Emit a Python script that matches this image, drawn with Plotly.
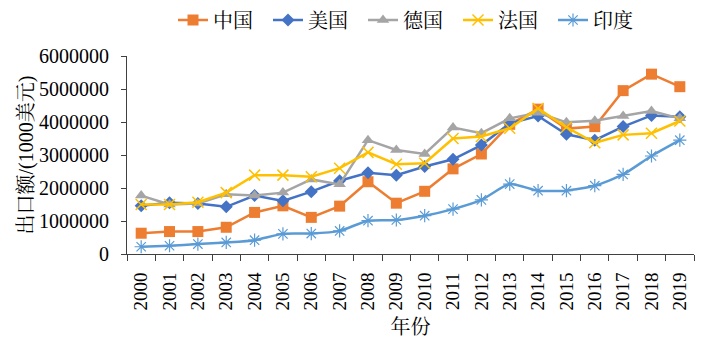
import plotly.graph_objects as go

years = [str(y) for y in range(2000, 2020)]
china = [630000, 680000, 680000, 810000, 1260000, 1460000, 1110000, 1450000, 2190000, 1540000,
         1900000, 2580000, 3030000, 3930000, 4390000, 3800000, 3860000, 4950000, 5450000, 5070000]
usa = [1460000, 1550000, 1530000, 1430000, 1770000, 1610000, 1890000, 2220000, 2460000, 2390000,
       2650000, 2870000, 3300000, 3960000, 4180000, 3630000, 3450000, 3860000, 4200000, 4160000]
germany = [1770000, 1500000, 1530000, 1810000, 1770000, 1860000, 2260000, 2110000, 3450000, 3150000,
           3030000, 3830000, 3660000, 4110000, 4280000, 3990000, 4040000, 4180000, 4330000, 4110000]
france = [1500000, 1500000, 1570000, 1860000, 2390000, 2390000, 2340000, 2600000, 3080000, 2720000,
          2750000, 3500000, 3560000, 3810000, 4410000, 3840000, 3370000, 3610000, 3660000, 4030000]
india = [220000, 250000, 300000, 350000, 420000, 610000, 620000, 700000, 1010000, 1030000,
         1160000, 1360000, 1640000, 2120000, 1920000, 1920000, 2070000, 2410000, 2970000, 3450000]

names = ["中国", "美国", "德国", "法国", "印度"]
FONT = "Liberation Serif, 'Times New Roman', 'Noto Serif CJK SC', 'Noto Sans CJK SC', serif"

fig = go.Figure()
fig.add_trace(go.Scatter(x=years, y=china, name=names[0], mode="lines+markers",
                         line=dict(color="#ED7D31", width=2.5),
                         marker=dict(symbol="square", size=11, color="#ED7D31")))
fig.add_trace(go.Scatter(x=years, y=usa, name=names[1], mode="lines+markers",
                         line=dict(color="#4472C4", width=2.5),
                         marker=dict(symbol="diamond", size=10, color="#4472C4")))
fig.add_trace(go.Scatter(x=years, y=germany, name=names[2], mode="lines+markers",
                         line=dict(color="#A5A5A5", width=2.5),
                         marker=dict(symbol="triangle-up", size=11, color="#A5A5A5")))
fig.add_trace(go.Scatter(x=years, y=france, name=names[3], mode="lines+markers",
                         line=dict(color="#FFC000", width=2.5),
                         marker=dict(symbol="x-thin-open", size=11, color="#FFC000",
                                     line=dict(color="#FFC000", width=1.5))))
fig.add_trace(go.Scatter(x=years, y=india, name=names[4], mode="lines+markers",
                         line=dict(color="#5B9BD5", width=2.5, shape="spline", smoothing=0.6),
                         marker=dict(symbol="asterisk-open", size=11, color="#5B9BD5",
                                     line=dict(color="#5B9BD5", width=1.2))))

fig.update_layout(
    width=704, height=345,
    margin=dict(l=127, r=10, t=56, b=91, autoexpand=False),
    paper_bgcolor="white", plot_bgcolor="white",
    font=dict(family=FONT, size=20, color="#000000"),
    showlegend=True,
    legend=dict(orientation="h", x=0.5, xanchor="center", yref="container", y=0.942,
                yanchor="middle",
                font=dict(size=20), entrywidth=50, entrywidthmode="pixels",
                itemwidth=30, tracegroupgap=0, bgcolor="rgba(0,0,0,0)"),
)
fig.update_xaxes(
    type="category", range=[-0.5, len(years) - 0.5], tickangle=-90, showline=True,
    linecolor="#404040", linewidth=1,
    ticks="outside", tickson="boundaries", ticklen=6, tickcolor="#404040",
    showgrid=False, tickfont=dict(size=19), ticklabelstandoff=10,
    title=dict(text="年份", font=dict(size=20), standoff=10),
)
fig.update_yaxes(
    range=[0, 6000000], dtick=1000000, tickformat="d", showline=True, linecolor="#404040",
    linewidth=1, ticks="outside", ticklen=5, tickcolor="#404040", showgrid=False,
    zeroline=False, tickfont=dict(size=20), ticklabelstandoff=8,
    title=dict(text="出口额/(1000美元)", font=dict(size=20), standoff=0),
)

fig.write_html("out.html")
